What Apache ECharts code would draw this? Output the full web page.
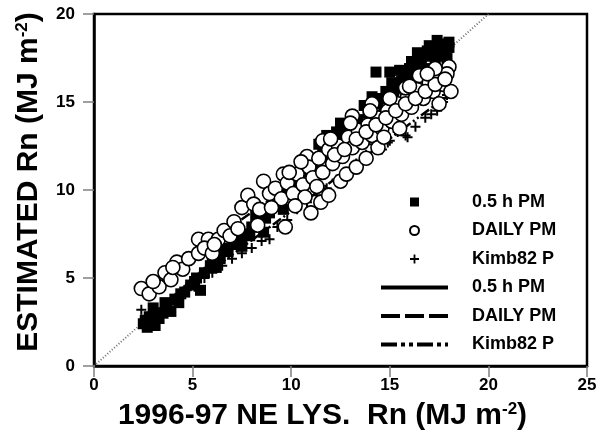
<!DOCTYPE html>
<html>
<head>
<meta charset="utf-8">
<script src="https://cdn.jsdelivr.net/npm/echarts@6/dist/echarts.min.js"></script>
<style>html,body{margin:0;padding:0;background:#fff}#c{width:606px;height:447px}</style>
</head>
<body>
<div id="c"></div>
<script>
// ---- data ----
var halfHourPM = [[2.5,2.4],[2.7,2.2],[2.9,2.5],[3.1,2.3],[2.8,2.8],[3.3,2.7],[3.5,3.0],[3.0,3.3],[3.7,3.4],[3.9,3.1],[4.1,3.8],[4.3,3.6],[4.6,4.2],[5.4,4.3],[4.9,4.6],[5.2,5.0],[5.6,5.3],[5.9,5.7],[6.2,5.6],[6.4,6.1],[6.8,6.5],[7.1,6.9],[7.4,7.2],[7.7,7.5],[8.0,7.9],[8.3,8.1],[8.6,7.6],[8.9,8.7],[9.2,9.1],[9.5,9.4],[9.8,9.9],[10.1,10.4],[10.4,10.2],[10.7,10.9],[11.0,11.4],[11.3,11.8],[11.6,12.3],[11.8,13.1],[12.2,12.7],[12.5,13.8],[12.8,13.6],[13.1,14.2],[13.4,14.0],[13.7,14.8],[14.1,15.3],[14.3,16.7],[15.0,16.7],[14.4,14.9],[14.8,15.6],[15.1,16.1],[15.4,15.8],[15.7,16.5],[16.0,16.9],[16.2,16.3],[16.4,17.8],[16.6,17.2],[16.8,17.6],[17.0,16.9],[17.2,18.0],[17.4,18.5],[17.6,17.6],[17.8,18.3],[18.0,18.1],[17.9,17.5],[17.3,17.3],[16.9,17.9],[16.5,16.8],[16.1,17.3],[15.8,15.9],[15.5,16.8],[12.0,11.8],[10.9,10.6],[9.6,8.9],[7.5,6.8],[13.0,13.2],[15.2,15.5],[15.6,16.2],[16.3,16.7],[16.7,17.7],[17.1,17.7],[17.5,18.1],[17.7,17.9],[18.0,18.4],[17.0,18.2],[16.0,16.6],[14.6,15.2],[13.9,14.4],[13.3,13.8],[12.7,13.1],[12.3,13.3],[11.4,12.6],[10.9,11.6],[10.2,10.9],[9.4,9.7],[8.7,8.4],[8.2,8.5],[7.9,7.4],[6.6,6.7],[6.0,6.0],[5.1,4.8],[4.4,4.1],[3.6,3.6],[3.2,2.9],[2.6,2.6]];
var dailyPM = [[2.4,4.4],[2.8,4.1],[3.3,4.5],[3.0,4.8],[3.6,5.3],[3.9,4.9],[4.2,5.9],[4.5,5.5],[4.8,6.1],[5.3,7.2],[5.8,7.2],[5.3,6.4],[5.6,6.7],[6.0,6.4],[6.3,7.2],[6.6,7.7],[6.9,7.4],[7.1,8.2],[7.5,9.0],[7.8,9.7],[8.1,9.2],[8.4,8.9],[8.6,10.5],[8.9,9.8],[9.2,10.1],[9.6,10.9],[9.5,9.5],[9.7,7.9],[9.8,10.4],[10.1,9.8],[10.3,10.9],[10.6,10.3],[10.8,11.9],[10.9,11.3],[11.0,8.7],[11.1,10.7],[11.4,11.8],[11.5,9.3],[11.6,12.8],[11.6,11.0],[11.9,12.3],[11.9,9.7],[12.1,11.5],[12.4,12.5],[12.5,10.5],[12.6,11.9],[12.8,10.9],[12.9,13.0],[13.1,14.2],[13.1,12.4],[13.3,11.3],[13.4,13.4],[13.6,12.7],[13.8,11.8],[13.9,13.7],[14.1,14.9],[14.1,13.1],[14.4,14.1],[14.4,12.4],[14.6,13.5],[14.7,13.0],[14.9,14.5],[15.1,13.9],[15.4,14.9],[15.5,13.5],[15.6,14.3],[15.9,15.3],[16.1,14.7],[16.4,15.7],[16.5,16.5],[16.7,15.2],[17.0,16.1],[17.2,15.6],[17.5,16.5],[17.5,14.9],[17.7,16.0],[18.0,17.0],[18.1,15.6],[17.9,16.6],[10.5,11.6],[9.9,11.0],[12.0,12.9],[13.0,13.8],[14.0,14.5],[15.0,15.2],[15.8,15.8],[17.3,16.9],[7.3,7.8],[6.1,6.9],[4.0,5.6],[12.2,12.0],[12.7,12.3],[13.3,12.9],[13.8,13.3],[14.3,13.7],[14.8,14.1],[15.3,14.5],[15.8,14.9],[16.3,15.2],[16.8,15.6],[17.3,16.0],[17.8,16.3],[16.0,15.9],[16.9,16.6],[11.3,10.2],[10.7,9.6],[10.2,9.1],[9.0,9.0],[8.3,8.0]];
var kimb82P = [[2.4,3.2],[2.7,2.7],[3.0,2.9],[3.4,3.1],[3.8,3.5],[4.2,3.8],[4.7,4.3],[5.1,4.5],[5.6,5.0],[6.0,5.3],[6.5,5.7],[7.0,6.1],[7.5,6.4],[8.0,6.7],[8.5,7.1],[8.9,7.2],[9.3,7.9],[9.8,8.3],[10.3,8.9],[10.8,9.3],[11.3,9.7],[11.8,10.1],[12.3,10.6],[12.8,11.0],[13.3,11.5],[13.8,12.0],[14.2,12.6],[14.6,12.3],[14.9,12.7],[15.0,12.8],[15.4,13.3],[15.8,13.1],[15.9,13.0],[16.3,13.6],[16.8,14.1],[17.1,14.3],[17.4,14.5],[17.7,15.0],[17.9,15.4],[18.0,15.6]];
var fitX = [2.5, 18];
var fitHalfHourY = [2.4, 18.1];
var fitDailyY = [4.4, 16.6];
var fitKimbY = [2.6, 15.4];
var oneToOne = [[0,0],[20,20]];
var xTicks = {min:0, max:25, step:5};
var yTicks = {min:0, max:20, step:5};
var legendNames = ['0.5 h PM','DAILY PM','Kimb82 P','0.5 h PM ','DAILY PM ','Kimb82 P '];

function pairs(xs, ys){ return xs.map(function(x,i){ return [x, ys[i]]; }); }

var FONT = 'Liberation Sans, Arial, sans-serif';
var plusPath = 'path://M4,0H6V4H10V6H6V10H4V6H0V4H4Z';
var chart = echarts.init(document.getElementById('c'), null, {renderer:'canvas'});
var axisCommon = {
  type:'value', splitLine:{show:false},
  axisLine:{show:true, lineStyle:{color:'#000', width:2.5}},
  axisTick:{show:true, inside:false, length:11, lineStyle:{color:'#808080', width:1.5}},
  axisLabel:{color:'#000', fontFamily:FONT, fontWeight:'bold', fontSize:17}
};
function nameStyle(pad){
  return {color:'#000', fontFamily:FONT, fontWeight:'bold', fontSize:30, padding:pad,
    rich:{s:{fontFamily:FONT, fontWeight:'bold', fontSize:17, verticalAlign:'top', lineHeight:30}}};
}
chart.setOption({
  animation:false,
  backgroundColor:'#fff',
  grid:{left:94, right:19, top:14, bottom:81, show:true, borderColor:'#000', borderWidth:2.5, backgroundColor:'transparent'},
  xAxis: Object.assign({}, axisCommon, {
    min:xTicks.min, max:xTicks.max, interval:xTicks.step,
    axisLabel:Object.assign({}, axisCommon.axisLabel, {margin:11}),
    name:'1996-97 NE LYS.  Rn (MJ m{s|-2})', nameLocation:'middle', nameGap:35,
    nameTextStyle:nameStyle([0,36,0,0])
  }),
  yAxis: Object.assign({}, axisCommon, {
    min:yTicks.min, max:yTicks.max, interval:yTicks.step,
    axisLabel:Object.assign({}, axisCommon.axisLabel, {margin:19}),
    name:'ESTIMATED Rn (MJ m{s|-2})', nameLocation:'middle', nameGap:50, nameRotate:90,
    nameTextStyle:nameStyle([0,0,0,16])
  }),
  legend:{
    orient:'vertical', left:376, top:188, itemWidth:67, itemHeight:9, itemGap:10.5,
    symbolKeepAspect:true,
    textStyle:{color:'#000', fontFamily:FONT, fontWeight:'bold', fontSize:18, padding:[0,0,0,19]},
    data:[
      {name:legendNames[0], icon:'path://M0,0H10V10H0Z'},
      {name:legendNames[1]},
      {name:legendNames[2]},
      {name:legendNames[3], icon:'path://M0,0H67V4H0Z'},
      {name:legendNames[4], icon:'path://M0,0H19V4H0ZM24,0H43V4H24ZM48,0H67V4H48Z'},
      {name:legendNames[5], icon:'path://M0,0H16V4H0ZM20,0H24V4H20ZM28,0H32V4H28ZM36,0H52V4H36ZM56,0H60V4H56ZM64,0H67V4H64Z'}
    ]
  },
  series:[
    {type:'line', name:'1:1', data:oneToOne, symbol:'none', silent:true, z:1,
      lineStyle:{color:'#777', width:2, type:[1,2]}},
    {type:'line', name:legendNames[3], data:pairs(fitX, fitHalfHourY), symbol:'none', z:2,
      itemStyle:{color:'#000'}, lineStyle:{color:'#000', width:2.5, type:'solid'}},
    {type:'line', name:legendNames[4], data:pairs(fitX, fitDailyY), symbol:'none', z:2,
      itemStyle:{color:'#000'}, lineStyle:{color:'#000', width:2.5, type:[10,5]}},
    {type:'line', name:legendNames[5], data:pairs(fitX, fitKimbY), symbol:'none', z:2,
      itemStyle:{color:'#000'}, lineStyle:{color:'#000', width:2.5, type:[10,3,2,3,2,3]}},
    {type:'scatter', name:legendNames[0], data:halfHourPM, symbol:'rect', symbolSize:11, z:3,
      itemStyle:{color:'#000', opacity:1}},
    {type:'scatter', name:legendNames[2], data:kimb82P, symbol:plusPath, symbolSize:10, z:4,
      symbolKeepAspect:true, itemStyle:{color:'#000', opacity:1}},
    {type:'scatter', name:legendNames[1], data:dailyPM, symbol:'circle', symbolSize:14, z:5,
      itemStyle:{color:'#fff', borderColor:'#000', borderWidth:1.6, opacity:1}}
  ]
});
</script>
</body>
</html>
